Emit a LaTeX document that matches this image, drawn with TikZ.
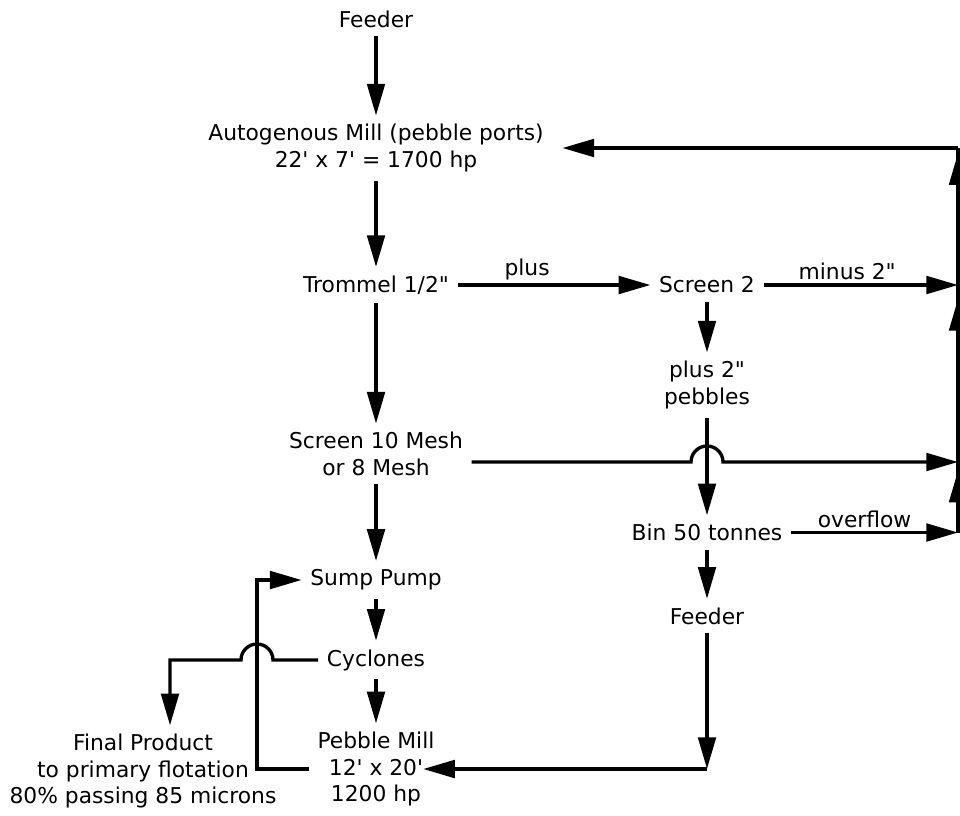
\documentclass[tikz,border=0pt]{standalone}
\usepackage{fontspec}
\setmainfont{DejaVu Sans}
\usepackage{tikz}
\usetikzlibrary{arrows.meta,positioning,calc}

\begin{document}
\begin{tikzpicture}[
  font=\fontsize{12.4}{15}\selectfont,
  stage/.style={align=center,inner sep=1pt,outer sep=4pt},
  arr/.style={-{Triangle[length=18pt,width=10pt]},line width=1.9pt},
  pipe/.style={line width=1.9pt},
  lbl/.style={inner sep=2pt}
]
\useasboundingbox (0,0) rectangle (19.2,-16.3);

% main column
\node[stage] (feeder)   at (7.52,-0.38)  {Feeder};
\node[stage] (mill)     at (7.52,-2.96)  {Autogenous Mill (pebble ports)\\22\textquotesingle\ x 7\textquotesingle\ = 1700 hp};
\node[stage] (trommel)  at (7.52,-5.70)  {Trommel 1/2\textquotedbl};
\node[stage] (screen10) at (7.52,-9.08)  {Screen 10 Mesh\\or 8 Mesh};
\node[stage] (sump)     at (7.52,-11.60) {Sump Pump};
\node[stage] (cyclones) at (7.52,-13.20) {Cyclones};
\node[stage] (pmill)    at (7.52,-15.38) {Pebble Mill\\12\textquotesingle\ x 20\textquotesingle\\1200 hp};
\node[stage] (final)    at (2.86,-15.42) {Final Product\\to primary flotation\\80\% passing 85 microns};

% pebble column
\node[stage] (screen2)  at (14.14,-5.70)  {Screen 2};
\node[stage] (pebbles)  at (14.14,-7.70)  {plus 2\textquotedbl\\pebbles};
\node[stage] (bin)      at (14.14,-10.65) {Bin 50 tonnes};
\node[stage] (feeder2)  at (14.14,-12.32) {Feeder};

% return line on the right
\coordinate (r1) at (19.16,-10.65);
\coordinate (r2) at (19.16,-9.24);
\coordinate (r3) at (19.16,-5.70);
\coordinate (r4) at (19.16,-2.96);
\coordinate (hopb) at (pebbles |- r2);
\coordinate (fc) at (14.14,-15.38);
\coordinate (rb) at (5.14,-15.38);
\coordinate (rt) at (5.14,-11.60);
\coordinate (hopc) at (rt |- cyclones);
\coordinate (fp) at (3.40,-13.20);

\draw[arr] (feeder) -- (mill);
\draw[arr] (mill) -- (trommel);
\draw[arr] (trommel) -- (screen10);
\draw[arr] (screen10) -- (sump);
\draw[arr] (sump) -- (cyclones);
\draw[arr] (cyclones) -- (pmill);

\draw[arr] (trommel) -- (screen2) node[lbl,pos=0.36,above]{plus};
\draw[arr] (screen2) -- (pebbles);
\draw[arr] (pebbles) -- (bin);
\draw[arr] (bin) -- (feeder2);
\draw[arr] (feeder2) -- (fc);
\draw[arr,shorten >=-0.4cm] (fc) -- (pmill);

\draw[arr] (screen2) -- (r3) node[lbl,pos=0.43,above]{minus 2\textquotedbl};
\draw[arr] (screen10.east |- r2) -- ([xshift=-0.32cm]hopb)
  arc[start angle=180,end angle=0,radius=0.32] -- (r2);
\draw[arr] (bin) -- (r1) node[lbl,pos=0.44,above]{overflow};
\draw[pipe] (r1) -- (r4);
\draw[arr,shorten >=0.2cm] (r4) -- (mill);
\draw[arr,shorten >=5pt] (r1) -- (r2);
\draw[arr,shorten >=8pt] (r2) -- (r3);
\draw[arr,shorten >=3pt] (r3) -- (r4);

% pebble mill discharge back to sump, cyclone overflow to product
\draw[arr] (pmill) -- (rb) -- (rt) -- (sump);
\draw[arr] (cyclones) -- ([xshift=0.32cm]hopc)
  arc[start angle=0,end angle=180,radius=0.32] -- (fp) -- (fp |- final.north);
\end{tikzpicture}
\end{document}
